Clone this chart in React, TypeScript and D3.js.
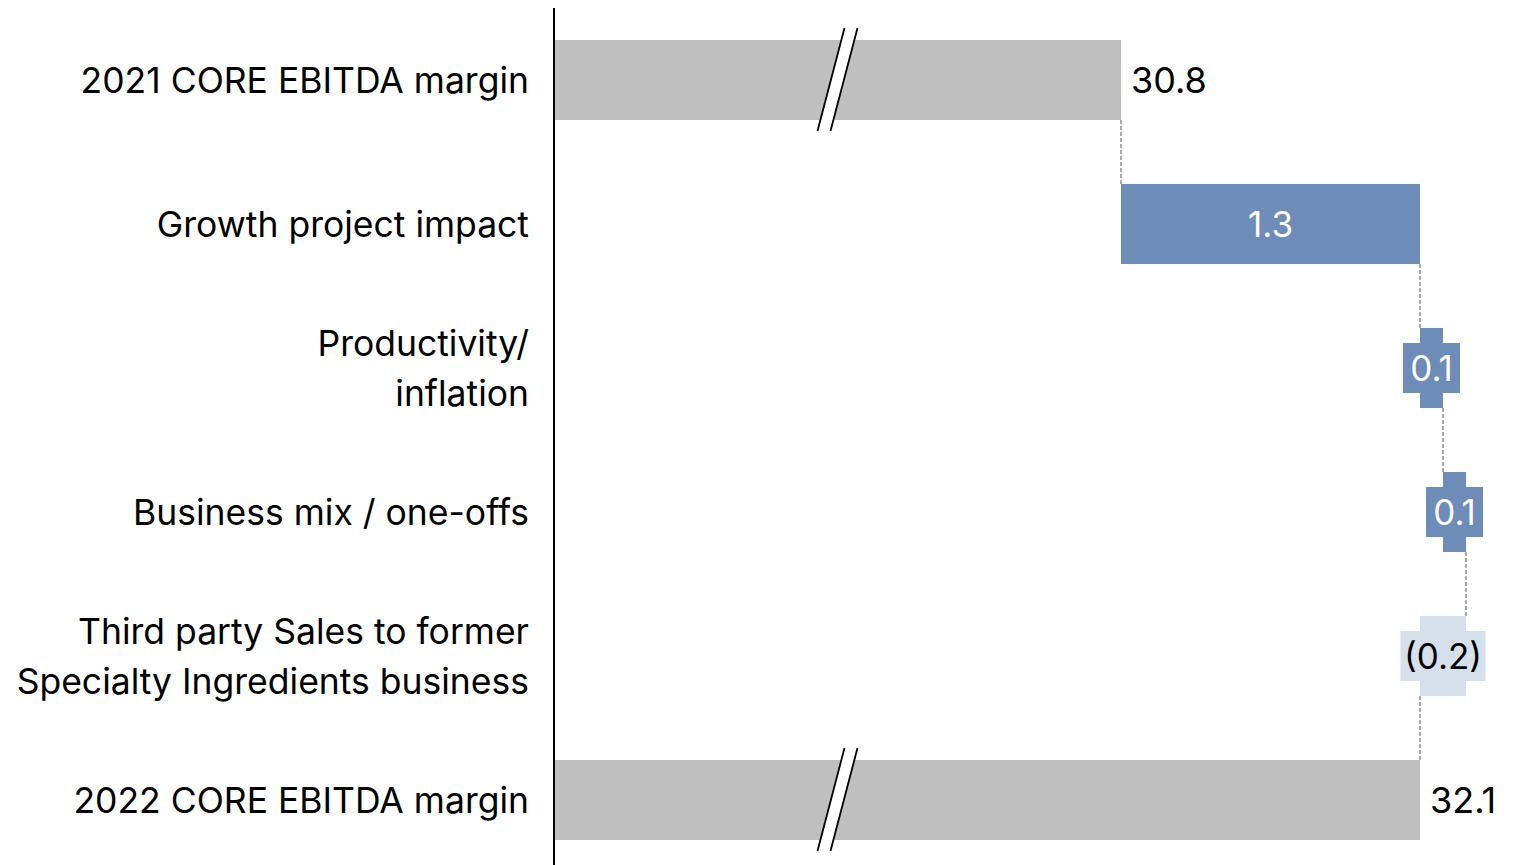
import React from "react";
import * as d3 from "d3";

const categories = [
  "2021 CORE EBITDA margin",
  "Growth project impact",
  "Productivity/\ninflation",
  "Business mix / one-offs",
  "Third party Sales to former\nSpecialty Ingredients business",
  "2022 CORE EBITDA margin",
];
const values = [30.8, 1.3, 0.1, 0.1, -0.2, 32.1];
const kinds = ["total", "delta", "delta", "delta", "delta", "total"];
const valueLabels = ["30.8", "1.3", "0.1", "0.1", "(0.2)", "32.1"];

const W = 1524;
const H = 865;
const FONT = "Inter, 'Noto Sans', sans-serif";
const GREY = "#bfbfbf";
const BLUE = "#6d8cb8";
const LIGHT = "#d6e0ea";

export default function App() {
  const y = d3
    .scaleBand<string>()
    .domain(categories)
    .range([8, 872])
    .paddingInner(64 / 144)
    .paddingOuter(32 / 144);
  const x = d3.scaleLinear().domain([30.8, 32.1]).range([1121, 1420]);
  const axisX = 554;
  const bw = y.bandwidth();

  let running = 0;
  const bars = categories.map((c, i) => {
    const v = values[i];
    let x0: number, x1: number, end: number;
    if (kinds[i] === "total") {
      x0 = axisX;
      x1 = x(v);
      end = v;
      running = v;
    } else {
      const start = running;
      end = running + v;
      running = end;
      x0 = x(Math.min(start, end));
      x1 = x(Math.max(start, end));
    }
    return { c, i, v, x0, x1, end, y0: y(c)! };
  });

  const breakX = (axisX + x(values[0])) / 2;

  return (
    <svg width={W} height={H} style={{ position: "absolute", left: 0, top: 0, background: "#fff" }}>
      {bars.map((b) => {
        const fill = kinds[b.i] === "total" ? GREY : b.v < 0 ? LIGHT : BLUE;
        const small = b.x1 - b.x0 < 60;
        const cx = (b.x0 + b.x1) / 2;
        const cy = b.y0 + bw / 2;
        const lines = b.c.split("\n");
        const lh = 50;
        return (
          <g key={b.c}>
            <rect x={b.x0} y={b.y0} width={b.x1 - b.x0} height={bw} fill={fill} />
            {kinds[b.i] === "delta" && small && (
              <rect
                x={cx - (b.v < 0 ? 42.5 : 28.5)}
                y={cy - 25}
                width={b.v < 0 ? 85 : 57}
                height={50}
                fill={fill}
              />
            )}
            {kinds[b.i] === "total" ? (
              <text x={b.x1 + 10} y={cy} dy="0.36em" fontSize={36} fontFamily={FONT} fill="#000">
                {valueLabels[b.i]}
              </text>
            ) : (
              <text
                x={cx}
                y={cy}
                dy="0.36em"
                textAnchor="middle"
                fontSize={35}
                fontFamily={FONT}
                fill={b.v < 0 ? "#000" : "#fff"}
              >
                {valueLabels[b.i]}
              </text>
            )}
            {lines.map((l, k) => (
              <text
                key={k}
                x={529}
                y={cy + (k - (lines.length - 1) / 2) * lh}
                dy="0.36em"
                textAnchor="end"
                fontSize={35.5}
                fontFamily={FONT}
                fill="#000"
              >
                {l}
              </text>
            ))}
            {kinds[b.i] === "total" && (
              <g>
                <polygon
                  points={`${breakX + 7},${b.y0 - 12} ${breakX + 20},${b.y0 - 12} ${breakX - 7},${b.y0 + bw + 11} ${breakX - 20},${b.y0 + bw + 11}`}
                  fill="#fff"
                />
                <line x1={breakX + 7} y1={b.y0 - 12} x2={breakX - 20} y2={b.y0 + bw + 11} stroke="#000" strokeWidth={1.8} />
                <line x1={breakX + 20} y1={b.y0 - 12} x2={breakX - 7} y2={b.y0 + bw + 11} stroke="#000" strokeWidth={1.8} />
              </g>
            )}
            {b.i < bars.length - 1 && (
              <line
                x1={x(b.end)}
                x2={x(b.end)}
                y1={b.y0 + bw}
                y2={y(categories[b.i + 1])!}
                stroke="#555"
                strokeWidth={1}
                strokeDasharray="4,2"
              />
            )}
          </g>
        );
      })}
      <line x1={axisX} x2={axisX} y1={8} y2={H} stroke="#000" strokeWidth={2} />
    </svg>
  );
}
